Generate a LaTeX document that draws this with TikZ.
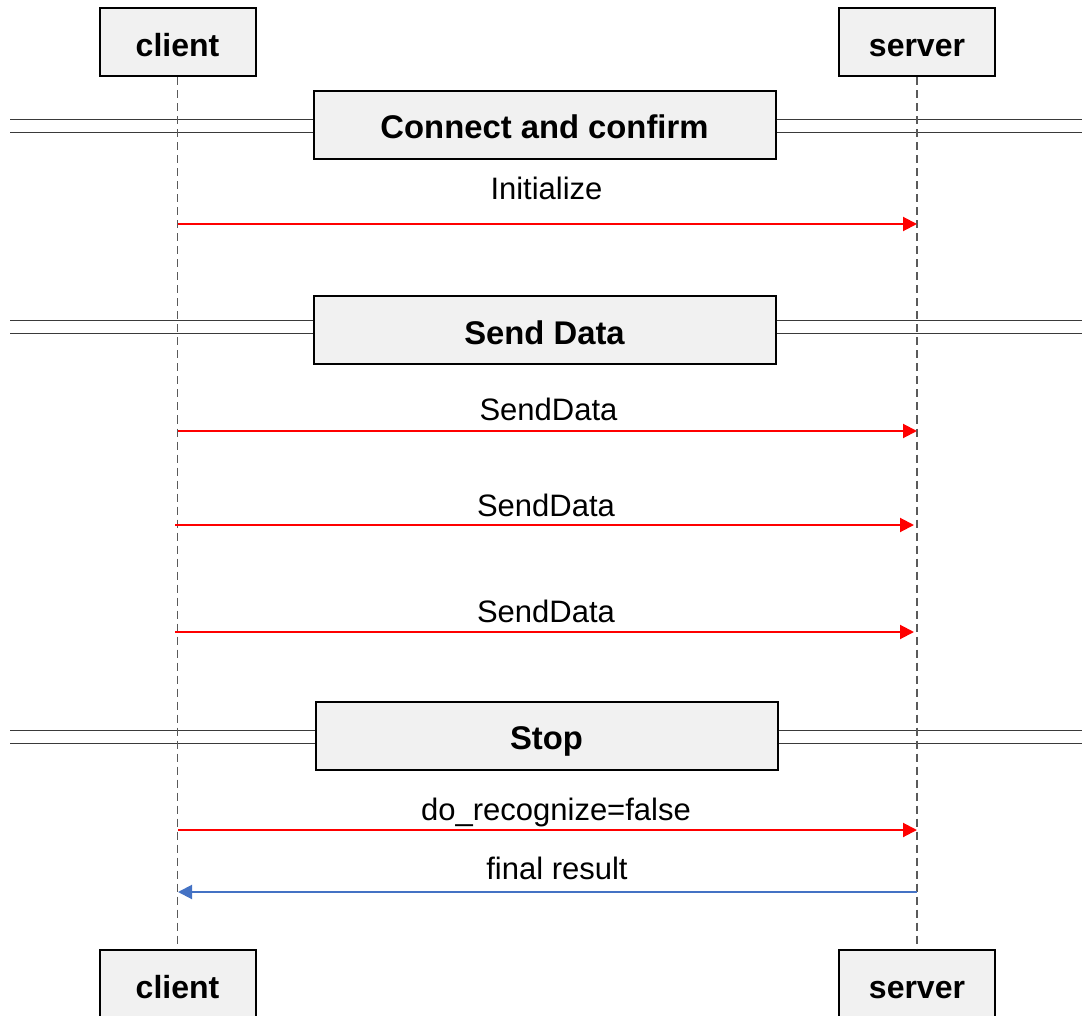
\documentclass[tikz,border=0pt]{standalone}
\usepackage{fontspec}
\setmainfont{Liberation Sans}
\usetikzlibrary{arrows.meta}
\definecolor{boxgray}{HTML}{F1F1F1}
\definecolor{msgblue}{HTML}{4472C4}
\definecolor{lifegray}{HTML}{5A5A5A}
\definecolor{bargray}{HTML}{3A3A3A}
\begin{document}
\begin{tikzpicture}[x=0.5pt,y=-0.5pt]
        \tikzstyle{actor}=[draw,line width=1pt,fill=boxgray,minimum width=78pt,minimum height=34pt,inner sep=0pt,text height=14.5pt,text depth=0pt,font=\fontsize{16}{18}\selectfont\bfseries]
        \tikzstyle{phase}=[draw,line width=1pt,fill=boxgray,minimum width=231pt,minimum height=34pt,inner sep=0pt,text height=13.5pt,text depth=0pt,font=\fontsize{16.4}{18}\selectfont\bfseries]
        \tikzstyle{lbl}=[anchor=base,inner sep=0pt,font=\fontsize{15.5}{17}\selectfont]
        \tikzstyle{bar}=[draw=bargray,line width=0.5pt,double,double distance=6pt]
        \tikzstyle{life}=[draw=lifegray,line width=0.6pt,dash pattern=on 4pt off 2.5pt]
        \tikzstyle{req}=[draw=red,line width=1pt,-{Triangle[length=7pt,width=7pt]}]
        \tikzstyle{resp}=[draw=msgblue,line width=1pt,-{Triangle[length=7pt,width=7pt]}]
        \useasboundingbox (0,0) rectangle (1082,1016);
        \node[phase] (connect) at (544.5,125.5) {Connect and confirm};
        \node[phase] (senddata) at (544.5,330.5) {Send Data};
        \node[phase] (stop) at (546.5,736) {Stop};
        \coordinate (bar1l) at (10,126.5); \coordinate (bar1r) at (1082,126.5);
        \coordinate (bar2l) at (10,327.5); \coordinate (bar2r) at (1082,327.5);
        \coordinate (bar3l) at (10,736.5); \coordinate (bar3r) at (1082,736.5);
        \draw[bar] (bar1l) -- (bar1l -| connect.west); \draw[bar] (bar1r -| connect.east) -- (bar1r);
        \draw[bar] (bar2l) -- (bar2l -| senddata.west); \draw[bar] (bar2r -| senddata.east) -- (bar2r);
        \draw[bar] (bar3l) -- (bar3l -| stop.west); \draw[bar] (bar3r -| stop.east) -- (bar3r);
        \node[actor] (client1) at (177.5,42.5) {client};
        \node[actor] (server1) at (917,42.5) {server};
        \node[actor] (client2) at (177.5,983.5) {client};
        \node[actor] (server2) at (917,983.5) {server};
        \draw[life] (client1) -- (client2);
        \draw[life] (server1) -- (server2);
        \coordinate (c1) at (178,224); \coordinate (s1) at (917,224);
        \coordinate (c2) at (178,431); \coordinate (s2) at (917,431);
        \coordinate (c3) at (175,525); \coordinate (s3) at (914,525);
        \coordinate (c4) at (175,632); \coordinate (s4) at (914,632);
        \coordinate (c5) at (178,830); \coordinate (s5) at (917,830);
        \coordinate (c6) at (178,892); \coordinate (s6) at (917,892);
        \draw[req] (c1) -- (s1); \node[lbl] (init) at (546.5,200) {Initialize};
        \draw[req] (c2) -- (s2); \node[lbl] (data1) at (548.5,421) {SendData};
        \draw[req] (c3) -- (s3); \node[lbl] (data2) at (546,516) {SendData};
        \draw[req] (c4) -- (s4); \node[lbl] (data3) at (546,622) {SendData};
        \draw[req] (c5) -- (s5); \node[lbl] (recog) at (556,820) {do\_recognize=false};
        \draw[resp] (s6) -- (c6); \node[lbl] (final) at (557,879) {final result};
\end{tikzpicture}
\end{document}
